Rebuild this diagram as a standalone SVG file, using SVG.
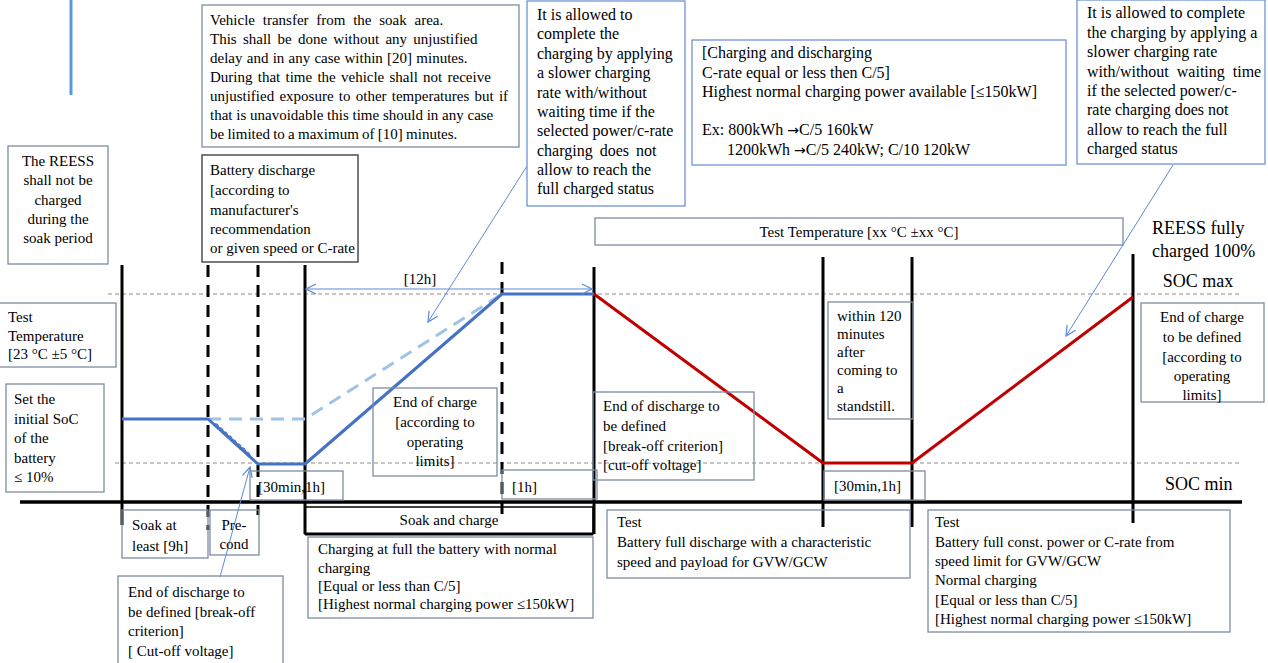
<svg xmlns="http://www.w3.org/2000/svg" width="1268" height="663" viewBox="0 0 1268 663">
<defs>
<style>
.t{font-family:"Liberation Serif","Times New Roman",serif;font-size:15px;fill:#000}
.t16{font-family:"Liberation Serif","Times New Roman",serif;font-size:16px;fill:#000}
.big{font-family:"Liberation Serif","Times New Roman",serif;font-size:18px;fill:#000}
.arw{font-family:"DejaVu Sans",sans-serif;font-size:14px}
.c{text-anchor:middle}
.b{fill:none;stroke:#7d8ca3;stroke-width:1.3}
.bb{fill:none;stroke:#6f93d6;stroke-width:1.3}
.bk{fill:none;stroke:#333;stroke-width:1.3}
.v{stroke:#000;stroke-width:3;fill:none}
.vd{stroke:#000;stroke-width:3;fill:none;stroke-dasharray:12,8}
.soc{stroke:#8c8c8c;stroke-width:1;stroke-dasharray:4,3;fill:none}
.cb{stroke:#4472c4;stroke-width:3;fill:none;stroke-linejoin:round}
.cl{stroke:#9dc3e6;stroke-width:3;fill:none;stroke-dasharray:13,8}
.cr{stroke:#c00000;stroke-width:3;fill:none;stroke-linejoin:round}
.ar{stroke:#5b8bd8;stroke-width:1;fill:none}
</style>
<marker id="ah" viewBox="0 0 12 12" refX="11" refY="6" markerWidth="12" markerHeight="12" markerUnits="userSpaceOnUse" orient="auto-start-reverse">
<path d="M1,1 L11,6 L1,11" fill="none" stroke="#5b8bd8" stroke-width="1.2"/>
</marker>
</defs>
<rect x="0" y="0" width="1268" height="663" fill="#fff"/>

<g id="axes">
<line x1="71" y1="0" x2="71" y2="95" stroke="#5b9bd5" stroke-width="3"/>
<line class="soc" x1="108" y1="294" x2="1242" y2="294"/>
<line class="soc" x1="115" y1="463" x2="1242" y2="463"/>
<line x1="20" y1="502" x2="1242" y2="502" stroke="#000" stroke-width="3.5"/>
<line class="v" x1="122" y1="265" x2="122" y2="525"/>
<line class="vd" x1="208" y1="265" x2="208" y2="530"/>
<line class="vd" x1="258" y1="265" x2="258" y2="515"/>
<line class="v" x1="305" y1="265" x2="305" y2="534"/>
<line class="vd" x1="502" y1="262" x2="502" y2="515"/>
<line class="v" x1="594" y1="267" x2="594" y2="534"/>
<line class="v" x1="823" y1="257" x2="823" y2="527"/>
<line class="v" x1="912" y1="257" x2="912" y2="527"/>
<line class="v" x1="1133" y1="254" x2="1133" y2="523"/>
</g>

<g id="connectors">
<path class="cl" d="M208,419 L305,419 L502,294"/>
<path class="cb" d="M122,419 L208,419 L258,464 L305,464 L502,294 L594,294"/>
<path class="cr" d="M594,294 L823,463 L912,463 L1133,297"/>
<path d="M213.9,424.4 A3.2,3.2 0 0 1 218.4,428.4 A3.2,3.2 0 0 1 222.9,432.4 A3.2,3.2 0 0 1 227.3,436.4 A3.2,3.2 0 0 1 231.8,440.4 A3.2,3.2 0 0 1 236.2,444.4 A3.2,3.2 0 0 1 240.7,448.4 A3.2,3.2 0 0 1 245.2,452.5 A3.2,3.2 0 0 1 249.6,456.5" stroke="#4472c4" stroke-width="1.3" fill="none"/>
<line class="ar" x1="306" y1="289" x2="592" y2="289" marker-start="url(#ah)" marker-end="url(#ah)"/>
<line class="ar" x1="527" y1="166" x2="428" y2="322" marker-end="url(#ah)"/>
<line class="ar" x1="1173" y1="165" x2="1066" y2="336" marker-end="url(#ah)"/>
<line class="ar" x1="220" y1="577" x2="250" y2="467" marker-end="url(#ah)"/>
<text class="t" x="420" y="284" text-anchor="middle">[12h]</text>
</g>

<g id="reess-not-charged">
<rect class="b" x="8" y="146" width="100" height="118"/>
<text class="t c" x="58"><tspan x="58" y="166">The REESS</tspan><tspan x="58" y="185">shall not be</tspan><tspan x="58" y="205">charged</tspan><tspan x="58" y="224">during the</tspan><tspan x="58" y="243">soak period</tspan></text>
</g>

<g id="vehicle-transfer">
<rect class="b" x="202" y="5" width="317" height="142"/>
<text class="t"><tspan x="210" y="25" word-spacing="4">Vehicle transfer from the soak area.</tspan><tspan x="210" y="44" word-spacing="2.5">This shall be done without any unjustified</tspan><tspan x="210" y="63" word-spacing="0.5">delay and in any case within [20] minutes.</tspan><tspan x="210" y="82" word-spacing="1.5">During that time the vehicle shall not receive</tspan><tspan x="210" y="101" word-spacing="1.5">unjustified exposure to other temperatures but if</tspan><tspan x="210" y="120">that is unavoidable this time should in any case</tspan><tspan x="210" y="139" word-spacing="-0.5">be limited to a maximum of [10] minutes.</tspan></text>
</g>

<g id="battery-discharge">
<rect class="bk" x="202" y="155" width="156" height="107"/>
<text class="t"><tspan x="210" y="175">Battery discharge</tspan><tspan x="210" y="195">[according to</tspan><tspan x="210" y="215">manufacturer's</tspan><tspan x="210" y="234">recommendation</tspan><tspan x="210" y="253">or given speed or C-rate</tspan></text>
</g>

<g id="slower-charging-1">
<rect class="bb" x="527" y="1" width="158" height="205"/>
<text class="t16"><tspan x="537" y="20">It is allowed to</tspan><tspan x="537" y="39">complete the</tspan><tspan x="537" y="59">charging by applying</tspan><tspan x="537" y="78">a slower charging</tspan><tspan x="537" y="98">rate with/without</tspan><tspan x="537" y="117">waiting time if the</tspan><tspan x="537" y="136">selected power/c-rate</tspan><tspan x="537" y="156" word-spacing="3">charging does not</tspan><tspan x="537" y="175">allow to reach the</tspan><tspan x="537" y="194">full charged status</tspan></text>
</g>

<g id="c-rate">
<rect class="bb" x="692" y="40" width="374" height="125"/>
<text class="t16"><tspan x="702" y="58">[Charging and discharging</tspan><tspan x="702" y="78">C-rate equal or less then C/5]</tspan><tspan x="702" y="97">Highest normal charging power available [≤150kW]</tspan></text>
<text class="t16" x="702" y="135">Ex: 800kWh <tspan class="arw">→</tspan>C/5 160kW</text>
<text class="t16" x="727" y="155">1200kWh <tspan class="arw">→</tspan>C/5 240kW; C/10 120kW</text>
</g>

<g id="slower-charging-2">
<rect class="bb" x="1077" y="0" width="188" height="164"/>
<text class="t16"><tspan x="1087" y="18">It is allowed to complete</tspan><tspan x="1087" y="38">the charging by applying a</tspan><tspan x="1087" y="57">slower charging rate</tspan><tspan x="1087" y="77" word-spacing="4">with/without waiting time</tspan><tspan x="1087" y="96">if the selected power/c-</tspan><tspan x="1087" y="115">rate charging does not</tspan><tspan x="1087" y="135">allow to reach the full</tspan><tspan x="1087" y="154">charged status</tspan></text>
</g>

<g id="test-temp-xx">
<rect class="b" x="595" y="218" width="528" height="27"/>
<text class="t c" x="859" y="237">Test Temperature [xx °C ±xx °C]</text>
</g>

<g id="reess-full">
<text class="big"><tspan x="1152" y="234">REESS fully</tspan><tspan x="1152" y="257">charged 100%</tspan></text>
<text class="big c" x="1198" y="287">SOC max</text>
<text class="big" x="1165" y="490">SOC min</text>
</g>

<g id="test-temp-23">
<rect class="b" x="-1" y="303" width="117" height="64"/>
<text class="t"><tspan x="8" y="322">Test</tspan><tspan x="8" y="341">Temperature</tspan><tspan x="8" y="359">[23 °C ±5 °C]</tspan></text>
</g>

<g id="initial-soc">
<rect class="b" x="6" y="384" width="98" height="108"/>
<text class="t"><tspan x="14" y="404">Set the</tspan><tspan x="14" y="424">initial SoC</tspan><tspan x="14" y="443">of the</tspan><tspan x="14" y="463">battery</tspan><tspan x="14" y="482">≤ 10%</tspan></text>
</g>

<g id="t30-1">
<rect class="b" x="250" y="471" width="93" height="29"/>
<text class="t" x="258" y="492">[30min,1h]</text>
</g>

<g id="end-charge-1">
<rect class="b" x="373" y="388" width="124" height="88"/>
<text class="t c"><tspan x="435" y="407">End of charge</tspan><tspan x="435" y="427">[according to</tspan><tspan x="435" y="447">operating</tspan><tspan x="435" y="466">limits]</tspan></text>
</g>

<g id="t1h">
<rect class="b" x="502" y="470" width="95" height="29"/>
<text class="t" x="512" y="492">[1h]</text>
</g>

<g id="end-discharge-1">
<rect class="b" x="593" y="392" width="161" height="88"/>
<text class="t"><tspan x="603" y="411">End of discharge to</tspan><tspan x="603" y="431">be defined</tspan><tspan x="603" y="451">[break-off criterion]</tspan><tspan x="603" y="470">[cut-off voltage]</tspan></text>
</g>

<g id="standstill">
<rect class="b" x="828" y="302" width="85" height="117"/>
<text class="t"><tspan x="837" y="321">within 120</tspan><tspan x="837" y="339">minutes</tspan><tspan x="837" y="357">after</tspan><tspan x="837" y="375">coming to</tspan><tspan x="837" y="393">a</tspan><tspan x="837" y="411">standstill.</tspan></text>
</g>

<g id="t30-2">
<rect class="b" x="824" y="471" width="101" height="29"/>
<text class="t" x="834" y="491">[30min,1h]</text>
</g>

<g id="end-charge-2">
<rect class="b" x="1141" y="303" width="123" height="99"/>
<text class="t c"><tspan x="1202" y="322">End of charge</tspan><tspan x="1202" y="342">to be defined</tspan><tspan x="1202" y="362">[according to</tspan><tspan x="1202" y="381">operating</tspan><tspan x="1202" y="400">limits]</tspan></text>
</g>

<g id="soak">
<rect class="b" x="122" y="510" width="86" height="48"/>
<text class="t"><tspan x="132" y="530">Soak at</tspan><tspan x="132" y="551">least [9h]</tspan></text>
</g>

<g id="precond">
<rect class="b" x="210" y="510" width="49" height="45"/>
<text class="t c"><tspan x="234" y="530">Pre-</tspan><tspan x="234" y="549">cond</tspan></text>
</g>

<g id="soak-charge">
<rect fill="none" stroke="#000" stroke-width="1.5" x="305" y="507" width="288" height="27"/>
<line x1="305" y1="534" x2="593" y2="534" stroke="#000" stroke-width="3"/>
<text class="t c" x="449" y="525">Soak and charge</text>
</g>

<g id="end-discharge-2">
<rect class="b" x="118" y="576" width="165" height="92"/>
<text class="t"><tspan x="128" y="597">End of discharge to</tspan><tspan x="128" y="617">be defined [break-off</tspan><tspan x="128" y="636">criterion]</tspan><tspan x="128" y="656">[ Cut-off voltage]</tspan></text>
</g>

<g id="charging-full">
<rect class="b" x="308" y="537" width="285" height="81"/>
<text class="t"><tspan x="318" y="554">Charging at full the battery with normal</tspan><tspan x="318" y="573">charging</tspan><tspan x="318" y="591">[Equal or less than C/5]</tspan><tspan x="318" y="609">[Highest normal charging power ≤150kW]</tspan></text>
</g>

<g id="test-1">
<rect class="b" x="607" y="510" width="303" height="68"/>
<text class="t"><tspan x="617" y="527">Test</tspan><tspan x="617" y="547">Battery full discharge with a characteristic</tspan><tspan x="617" y="567">speed and payload for GVW/GCW</tspan></text>
</g>

<g id="test-2">
<rect class="b" x="928" y="510" width="302" height="122"/>
<text class="t"><tspan x="935" y="527">Test</tspan><tspan x="935" y="547">Battery full const. power or C-rate from</tspan><tspan x="935" y="566">speed limit for GVW/GCW</tspan><tspan x="935" y="585">Normal charging</tspan><tspan x="935" y="605">[Equal or less than C/5]</tspan><tspan x="935" y="624">[Highest normal charging power ≤150kW]</tspan></text>
</g>
</svg>
